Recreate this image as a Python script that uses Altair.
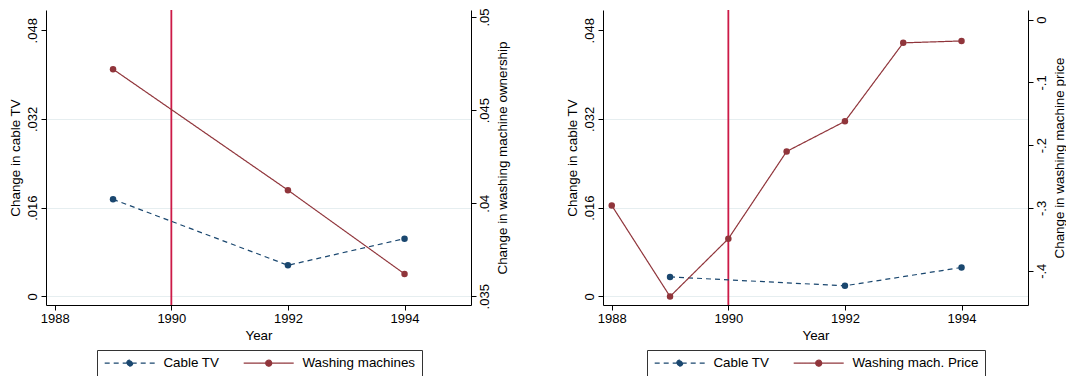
import altair as alt
import pandas as pd

# ---------------- data ----------------
# Left panel
p1_cable_years = [1989, 1992, 1994]
p1_cable_values = [0.0175, 0.0056, 0.0104]
p1_wash_years = [1989, 1992, 1994]
p1_wash_values = [0.0472, 0.0407, 0.0362]

# Right panel
p2_cable_years = [1989, 1992, 1994]
p2_cable_values = [0.0035, 0.0019, 0.0052]
p2_price_years = [1988, 1989, 1990, 1991, 1992, 1993, 1994]
p2_price_values = [-0.296, -0.441, -0.349, -0.210, -0.162, -0.037, -0.034]

event_year = [1990]
x_ticks = [1988, 1990, 1992, 1994]
cable_ticks = [0, 0.016, 0.032, 0.048]
own_ticks = [0.035, 0.04, 0.045, 0.05]
price_ticks = [0, -0.1, -0.2, -0.3, -0.4]

# ---------------- styling ----------------
NAVY = "#1a476f"
MAROON = "#90353b"
VLINE = "#cc1a47"
GRID = "#e6eef0"
FONT = "Liberation Sans"
X_DOMAIN = [1987.85, 1995.14]
CABLE_DOMAIN = [-0.00157, 0.05166]
OWN_DOMAIN = [0.03453, 0.05038]
PRICE_DOMAIN = [-0.4545, 0.0153]
W, H = 425, 295

LABEL_EXPR = ("(datum.value < 0 ? '-' : '') + "
              "replace(format(abs(datum.value), '.3~f'), /^0\\./, '.')")

# legend key: a 50px line with a dot in its middle (unit = 5px),
# starting at the left edge of the 10px symbol slot
LEGEND_SYMBOL = ("M-1,0L9,0M4.6,0A0.6,0.6,0,1,1,3.4,0"
                 "A0.6,0.6,0,1,1,4.6,0Z")


def panel(cable_years, cable_vals, other_years, other_vals, other_name,
          other_title, other_domain, other_ticks, legend_x):
    names = ["Cable TV", other_name]
    color_scale = alt.Scale(domain=names, range=[NAVY, MAROON])
    dash_scale = alt.Scale(domain=names, range=[[5, 4], [1, 0]])
    legend = alt.Legend(
        title=None, orient="none", legendX=legend_x, legendY=340,
        direction="horizontal", symbolType=LEGEND_SYMBOL, symbolSize=100,
        symbolStrokeWidth=1.2, labelFontSize=13.4, labelFont=FONT,
        labelColor="black", labelOffset=47, columnPadding=21, padding=6,
        strokeColor="#333333", cornerRadius=0, fillColor="white",
    )

    cable_df = pd.DataFrame({"year": cable_years, "value": cable_vals,
                             "series": "Cable TV"})
    other_df = pd.DataFrame({"year": other_years, "value": other_vals,
                             "series": other_name})
    vline_df = pd.DataFrame({"year": event_year})

    x = alt.X("year:Q",
              scale=alt.Scale(domain=X_DOMAIN, nice=False, zero=False),
              axis=alt.Axis(values=x_ticks, format="d", title="Year",
                            grid=False, tickSize=5, labelPadding=2,
                            titlePadding=3))

    y_left = alt.Y(
        "value:Q",
        scale=alt.Scale(domain=CABLE_DOMAIN, nice=False, zero=False),
        axis=alt.Axis(
            orient="left", values=cable_ticks, title="Change in cable TV",
            labelExpr=LABEL_EXPR, labelAngle=270, labelAlign="center",
            labelBaseline="bottom", labelPadding=2, tickSize=5,
            titlePadding=4, grid=True,
            gridColor={"condition": {"test": "datum.value > 0.04",
                                     "value": "transparent"},
                       "value": GRID},
        ),
    )
    y_right = alt.Y(
        "value:Q",
        scale=alt.Scale(domain=other_domain, nice=False, zero=False),
        axis=alt.Axis(
            orient="right", values=other_ticks, title=other_title,
            labelExpr=LABEL_EXPR, labelAngle=270, labelAlign="center",
            labelBaseline="top", labelPadding=2, tickSize=5,
            titleAngle=270, titleBaseline="top", titlePadding=4,
            grid=False,
        ),
    )
    color = alt.Color("series:N", scale=color_scale, legend=legend)
    dash = alt.StrokeDash("series:N", scale=dash_scale, legend=legend)

    vline = alt.Chart(vline_df).mark_rule(color=VLINE, strokeWidth=1.8).encode(x=x)

    cable_line = alt.Chart(cable_df).mark_line(strokeWidth=1.2).encode(
        x=x, y=y_left, color=color, strokeDash=dash)
    cable_pts = alt.Chart(cable_df).mark_point(filled=True, size=42, opacity=1).encode(
        x=x, y=y_left, color=color)

    other_line = alt.Chart(other_df).mark_line(strokeWidth=1.2).encode(
        x=x, y=y_right, color=color, strokeDash=dash)
    other_pts = alt.Chart(other_df).mark_point(filled=True, size=42, opacity=1).encode(
        x=x, y=y_right, color=color)

    left_layer = alt.layer(vline, cable_line, cable_pts)
    right_layer = alt.layer(other_line, other_pts)
    return alt.layer(left_layer, right_layer).resolve_scale(
        y="independent").properties(width=W, height=H)


left = panel(p1_cable_years, p1_cable_values, p1_wash_years, p1_wash_values,
             "Washing machines", "Change in washing machine ownership",
             OWN_DOMAIN, own_ticks, 51)
right = panel(p2_cable_years, p2_cable_values, p2_price_years, p2_price_values,
              "Washing mach. Price", "Change in washing machine price",
              PRICE_DOMAIN, price_ticks, 44)

chart = alt.hconcat(left, right, spacing=56).resolve_scale(
    color="independent", strokeDash="independent"
).resolve_legend(color="independent", strokeDash="independent").configure(
    font=FONT, padding={"left": 0, "top": 0, "right": 0, "bottom": 0},
    background="white",
).configure_view(strokeWidth=0).configure_axis(
    labelFontSize=13, titleFontSize=13.4, labelColor="black",
    titleColor="black", domainColor="black", tickColor="black",
    titleFontWeight="normal", labelFont=FONT, titleFont=FONT,
    domainWidth=1, tickWidth=1,
)

chart.save("out.html", embed_options={"renderer": "svg", "actions": False})
